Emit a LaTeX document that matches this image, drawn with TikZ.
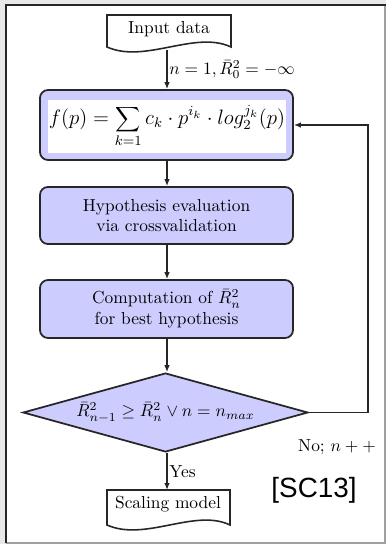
\documentclass[tikz,border=0pt]{standalone}
\usepackage{fontspec}
\newfontfamily\arialfont{Liberation Sans}
\usetikzlibrary{shapes.geometric,arrows.meta}
\definecolor{boxblue}{RGB}{204,204,255}
\definecolor{framegray}{RGB}{160,160,160}
\definecolor{edgegray}{RGB}{232,232,232}
\tikzset{
  blockbox/.style={draw=black!85, line width=1pt, fill=boxblue, rounded corners=4.6pt,
    minimum width=145.5pt, align=center, inner sep=0pt},
  decisionbox/.style={diamond, draw=black!85, line width=1pt, fill=boxblue, inner sep=0pt,
    minimum width=163.9pt, minimum height=45.4pt, aspect=3.6},
  docshape/.style={draw=black!85, line width=0.9pt, fill=white},
  arr/.style={draw=black!85, line width=0.8pt, -{Latex[length=4pt,width=3.2pt]}},
  lbl/.style={inner sep=1pt}
}
\begin{document}
\begin{tikzpicture}[x=0.575pt,y=-0.575pt]
\useasboundingbox (0,0) rectangle (386,544);
% screenshot frame
\fill[edgegray] (0,0) rectangle (386,544);
\fill[white] (6,5) rectangle (385,543);
\draw[framegray, line width=0.6pt] (385,5) -- (385,543) -- (6,543);
\draw[black!85, line width=1.2pt] (6,543) -- (6,5) -- (386,5);

% Input data document
\draw[docshape] (107,15) -- (231,15) -- (231,47)
  .. controls (195,30) and (145,64) .. (107,47) -- cycle;
\node (in) at (169,29) {Input data};
\coordinate (inb) at (167,50);

% formula block
\node[blockbox, minimum height=40.25pt] (f) at (166.5,125) {};
\node[fill=white, minimum width=136.9pt, minimum height=30.5pt, inner sep=0pt] (fw) at (167,126.5)
  {\large$\displaystyle f(p)=\sum_{k=1} c_k\cdot p^{i_k}\cdot log_2^{j_k}(p)$};

% hypothesis
\node[blockbox, minimum height=32.8pt] (h) at (166.5,215.5) {Hypothesis evaluation\\via crossvalidation};
% computation
\node[blockbox, minimum height=33.35pt] (c) at (166.5,309) {Computation of $\bar{R}_n^2$\\for best hypothesis};
% decision
\node[decisionbox] (d) at (165.5,412.5) {$\bar{R}_{n-1}^2\geq\bar{R}_n^2\vee n=n_{max}$};

% Scaling model document
\draw[docshape] (107,490) -- (230,490) -- (230,525)
  .. controls (195,508) and (145,542) .. (107,525) -- cycle;
\node (out) at (168,504) {Scaling model};
\coordinate (outt) at (167,490);

% connectors
\draw[arr] (inb) -- (inb |- f.north) node[lbl, midway, anchor=west] {$n=1,\bar{R}_0^2=-\infty$};
\draw[arr] (f.south -| inb) -- (h.north -| inb);
\draw[arr] (h.south -| inb) -- (c.north -| inb);
\draw[arr] (c.south -| inb) -- (d.north -| inb);
\draw[arr] (d.south -| inb) -- (outt) node[lbl, midway, anchor=west] {Yes};
\draw[arr] (d.east) -- ++(59,0) |- (f.east);
\node (no) at (337,447) {No; $n++$};

\node (sc) at (314,490) {\arialfont\fontsize{16}{19}\selectfont [SC13]};
\end{tikzpicture}
\end{document}
